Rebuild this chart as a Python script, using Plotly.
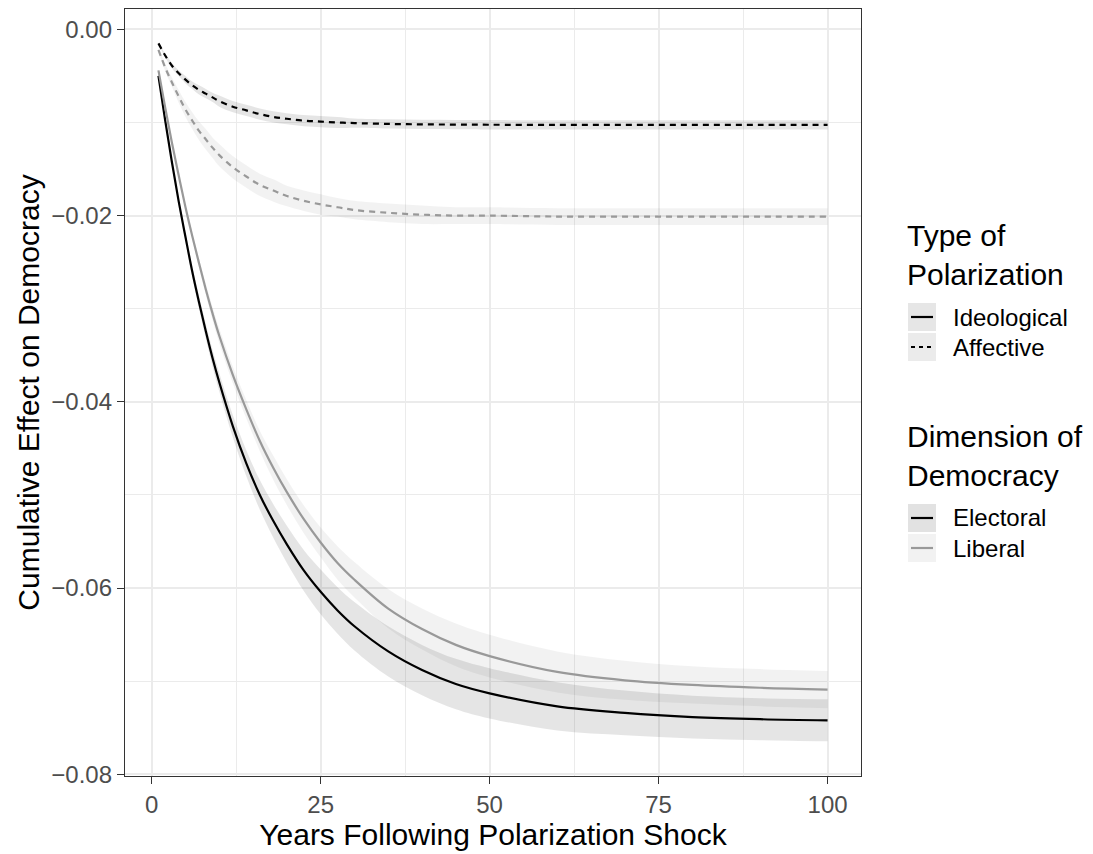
import plotly.graph_objects as go

# ---------------- data ----------------
years = [1, 2, 3, 4, 5, 6, 7, 8, 9, 10, 12, 14, 16, 18, 20, 22.5, 25, 27.5, 30,
         35, 40, 45, 50, 60, 70, 80, 90, 100]

# Ideological polarization
ideo_electoral = [-0.0050, -0.0098, -0.0143, -0.0185, -0.0223, -0.0260, -0.0293, -0.0324, -0.0353,
                  -0.0379, -0.0426, -0.0466, -0.0500, -0.0528, -0.0553, -0.0581, -0.0604, -0.0624,
                  -0.0641, -0.0668, -0.0688, -0.0703, -0.0713, -0.0727, -0.0734, -0.07385, -0.07408,
                  -0.0742]
ideo_electoral_hw = [0.0001, 0.0002, 0.0003, 0.0004, 0.0005, 0.0006, 0.0007, 0.0008, 0.0009,
                     0.0010, 0.0012, 0.0014, 0.0016, 0.0018, 0.0020, 0.0022, 0.0024, 0.0025,
                     0.0026, 0.0027, 0.0027, 0.0027, 0.0027, 0.0026, 0.0024, 0.0023, 0.00225,
                     0.00225]
ideo_liberal = [-0.0044, -0.0084, -0.0122, -0.0157, -0.0191, -0.0222, -0.0251, -0.0279, -0.0305,
                -0.0329, -0.0371, -0.0408, -0.0442, -0.0471, -0.0497, -0.0526, -0.0551, -0.0573,
                -0.0591, -0.0622, -0.0644, -0.0661, -0.0673, -0.0690, -0.0699, -0.0704, -0.0707,
                -0.0709]
ideo_liberal_hw = [0.0001, 0.0001, 0.0002, 0.0003, 0.0003, 0.0004, 0.0005, 0.0006, 0.0007,
                   0.0008, 0.0009, 0.0010, 0.0011, 0.0013, 0.0014, 0.0015, 0.0016, 0.0018,
                   0.0019, 0.0021, 0.0022, 0.0023, 0.0023, 0.0022, 0.0021, 0.0020, 0.0020,
                   0.0020]

# Affective polarization
aff_electoral = [-0.0015, -0.0028, -0.0039, -0.0047, -0.0054, -0.0060, -0.0065, -0.0069, -0.0073,
                 -0.0077, -0.0083, -0.0087, -0.0091, -0.0094, -0.0096, -0.0098, -0.0099, -0.0100,
                 -0.01006, -0.01015, -0.0102, -0.01022, -0.01024, -0.01025, -0.01025, -0.01025,
                 -0.01025, -0.01025]
aff_electoral_hw = [0.0001, 0.0002, 0.0003, 0.0003, 0.0004, 0.0004, 0.0005, 0.0005, 0.0005,
                    0.0006, 0.0006, 0.0006, 0.0006, 0.0006, 0.0006, 0.0006, 0.0006, 0.0006,
                    0.0005, 0.0005, 0.0005, 0.0005, 0.0005, 0.0005, 0.0005, 0.0005, 0.0005,
                    0.0005]
aff_liberal = [-0.0022, -0.0041, -0.0057, -0.0072, -0.0086, -0.0098, -0.0109, -0.0118, -0.0127,
               -0.0135, -0.0148, -0.0158, -0.0167, -0.0173, -0.0179, -0.0184, -0.0188, -0.0191,
               -0.0194, -0.0197, -0.0199, -0.0200, -0.0200, -0.0201, -0.0201, -0.0201, -0.0201,
               -0.0201]
aff_liberal_hw = [0.0002, 0.0004, 0.0005, 0.0007, 0.0008, 0.0009, 0.0010, 0.0011, 0.0011,
                  0.0012, 0.0012, 0.0012, 0.0012, 0.0012, 0.0011, 0.0011, 0.0011, 0.0010,
                  0.0010, 0.0010, 0.0010, 0.0009, 0.0009, 0.0009, 0.0009, 0.0009, 0.0009,
                  0.0009]

x_ticks = [0, 25, 50, 75, 100]
x_minor = [12.5, 37.5, 62.5, 87.5]
y_ticks = [0.00, -0.02, -0.04, -0.06, -0.08]
y_minor = [-0.01, -0.03, -0.05, -0.07]
y_tick_labels = ["0.00", "\u22120.02", "\u22120.04", "\u22120.06", "\u22120.08"]

legend1_title = "Type of<br>Polarization"
legend1_labels = ["Ideological", "Affective"]
legend2_title = "Dimension of<br>Democracy"
legend2_labels = ["Electoral", "Liberal"]

# ---------------- styling ----------------
FONT = "Liberation Sans, Arial, Helvetica, sans-serif"
OFF = 8                        # page body margin of the html page
W, H = 1093 - OFF, 854 - OFF
L, R, T, B = 125, 861, 9, 776  # panel edges in page px

BLACK = "#000000"
GREY = "#999999"
FILL_ELEC = "rgba(0,0,0,0.10)"
FILL_LIB = "rgba(0,0,0,0.05)"
DASH = "6px,5px"
LW = 2.2

fig = go.Figure()

series = [
    (ideo_electoral, ideo_electoral_hw, BLACK, "solid", FILL_ELEC),
    (ideo_liberal, ideo_liberal_hw, GREY, "solid", FILL_LIB),
    (aff_electoral, aff_electoral_hw, BLACK, DASH, FILL_ELEC),
    (aff_liberal, aff_liberal_hw, GREY, DASH, FILL_LIB),
]

# ribbons
for vals, hw, col, dash, fill in series:
    lower = [v - h for v, h in zip(vals, hw)]
    upper = [v + h for v, h in zip(vals, hw)]
    fig.add_trace(go.Scatter(x=years, y=lower, mode="lines", line=dict(width=0, shape="spline"),
                             showlegend=False, hoverinfo="skip"))
    fig.add_trace(go.Scatter(x=years, y=upper, mode="lines", line=dict(width=0, shape="spline"),
                             fill="tonexty", fillcolor=fill, showlegend=False, hoverinfo="skip"))

# lines
for vals, hw, col, dash, fill in series:
    fig.add_trace(go.Scatter(x=years, y=vals, mode="lines",
                             line=dict(color=col, width=LW, dash=dash, shape="spline"),
                             showlegend=False))

# ---------------- manual legend (ggplot style) ----------------
def px_x(p):
    return (p - L) / (R - L)

def px_y(p):
    return (B - p) / (B - T)

shapes = []
annotations = []

def key(y_c, bg, col, dash):
    shapes.append(dict(type="rect", xref="paper", yref="paper",
                       x0=px_x(908), x1=px_x(936), y0=px_y(y_c + 14), y1=px_y(y_c - 14),
                       fillcolor=bg, line=dict(width=0), layer="above"))
    shapes.append(dict(type="line", xref="paper", yref="paper",
                       x0=px_x(911), x1=px_x(933), y0=px_y(y_c), y1=px_y(y_c),
                       line=dict(color=col, width=LW, dash=dash), layer="above"))

def text(x, y, s, size, color="#000000"):
    annotations.append(dict(text=s, xref="paper", yref="paper", x=px_x(x), y=px_y(y),
                            xanchor="left", yanchor="middle", showarrow=False, align="left",
                            font=dict(family=FONT, size=size, color=color)))

text(905, 255, legend1_title, 30)
key(317, "#e6e6e6", BLACK, "solid")
key(347, "#ebebeb", BLACK, "4px,4px")
text(951, 317, legend1_labels[0], 24)
text(951, 347, legend1_labels[1], 24)

text(905, 456, legend2_title, 30)
key(518, "#e2e2e2", BLACK, "solid")
key(548, "#f2f2f2", GREY, "solid")
text(951, 518, legend2_labels[0], 24)
text(951, 548, legend2_labels[1], 24)

axis_common = dict(
    showline=True, linecolor="#333333", linewidth=1.3, mirror=True,
    ticks="outside", ticklen=7, tickwidth=1.3, tickcolor="#333333",
    tickfont=dict(family=FONT, size=24, color="#4d4d4d"),
    showgrid=True, gridcolor="#ebebeb", gridwidth=2,
    zeroline=False,
)

fig.update_layout(
    width=W, height=H,
    margin=dict(l=L - OFF, r=W - (R - OFF), t=T - OFF, b=H - (B - OFF)),
    paper_bgcolor="white", plot_bgcolor="white",
    font=dict(family=FONT),
    showlegend=False,
    shapes=shapes, annotations=annotations,
    xaxis=dict(range=[-3.95, 104.95], tickvals=x_ticks, ticktext=[str(v) for v in x_ticks],
               minor=dict(tickvals=x_minor, showgrid=True,
                          gridcolor="#ebebeb", gridwidth=1, ticks=""),
               title=dict(text="Years Following Polarization Shock",
                          font=dict(family=FONT, size=30, color="#000000"), standoff=6),
               **axis_common),
    yaxis=dict(range=[-0.08018, 0.00219], tickvals=y_ticks, ticktext=y_tick_labels,
               minor=dict(tickvals=y_minor, showgrid=True,
                          gridcolor="#ebebeb", gridwidth=1, ticks=""),
               title=dict(text="Cumulative Effect on Democracy",
                          font=dict(family=FONT, size=30, color="#000000"), standoff=2),
               **axis_common),
)

fig.write_html("out.html")
